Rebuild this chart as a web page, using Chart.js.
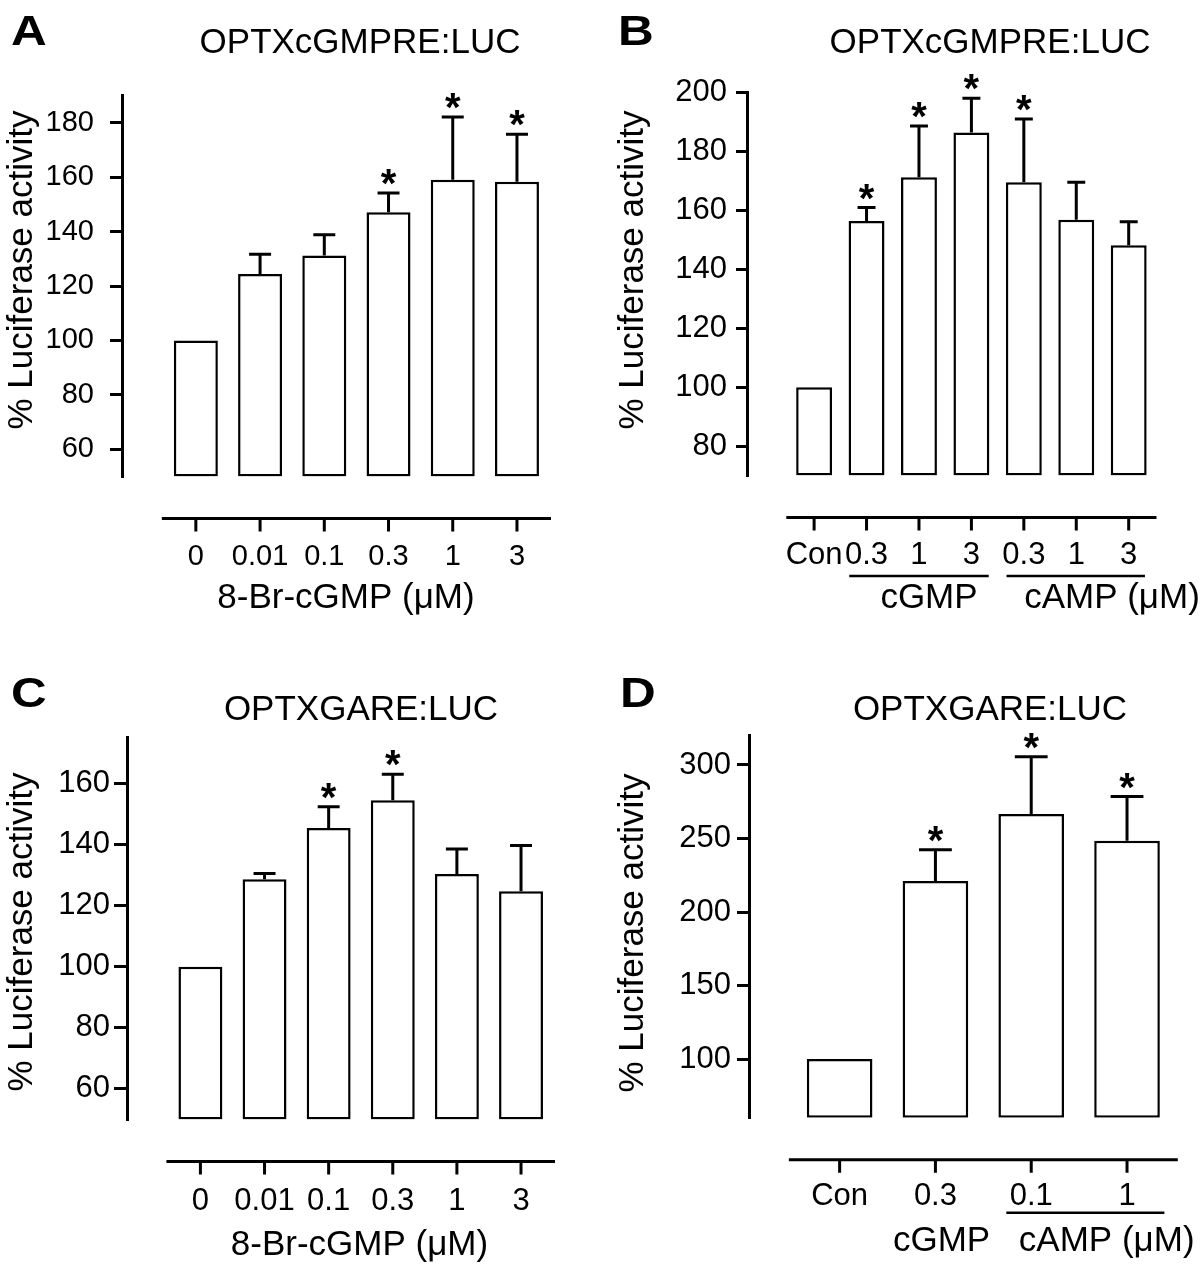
<!DOCTYPE html>
<html><head><meta charset="utf-8">
<script src="https://cdn.jsdelivr.net/npm/chart.js@4.4.1/dist/chart.umd.min.js"></script>
<style>
html,body{margin:0;padding:0;background:#fff;}
#wrap{position:relative;width:1200px;height:1267px;background:#fff;}
canvas{position:absolute;}
</style></head><body>
<div id="wrap">
<canvas id="cA" width="600" height="630" style="left:0;top:0;"></canvas>
<canvas id="cB" width="600" height="630" style="left:600px;top:0;"></canvas>
<canvas id="cC" width="600" height="637" style="left:0;top:630px;"></canvas>
<canvas id="cD" width="600" height="637" style="left:600px;top:630px;"></canvas>
</div>
<script>
// ---------------- DATA ----------------
const yLabel = '% Luciferase activity';

const titleA = 'OPTXcGMPRE:LUC';
const catsA = ['0','0.01','0.1','0.3','1','3'];
const meanA = [100,124.4,131.2,147.1,159.0,158.3];
const semA  = [0,7.3,7.6,7.1,23.1,17.5];
const sigA  = [0,0,0,1,1,1];
const yTicksA = [60,80,100,120,140,160,180];

const titleB = 'OPTXcGMPRE:LUC';
const catsB = ['Con','0.3','1','3','0.3','1','3'];
const meanB = [100,156.4,171.3,186.5,169.6,156.9,148.2];
const semB  = [0,4.6,17.4,11.6,21.5,12.7,8.0];
const sigB  = [0,1,1,1,1,0,0];
const yTicksB = [80,100,120,140,160,180,200];

const titleC = 'OPTXGARE:LUC';
const catsC = ['0','0.01','0.1','0.3','1','3'];
const meanC = [100,128.6,145.4,154.5,130.3,124.7];
const semC  = [0,1.9,6.9,8.5,8.2,15.0];
const sigC  = [0,0,1,1,0,0];
const yTicksC = [60,80,100,120,140,160];

const titleD = 'OPTXGARE:LUC';
const catsD = ['Con','0.3','0.1','1'];
const meanD = [100,221.1,266.7,248.5];
const semD  = [0,21.3,38.9,30.0];
const sigD  = [0,1,1,1];
const yTicksD = [100,150,200,250,300];

// ---------------- DRAWING ----------------
const FONT = '"Liberation Sans", Arial, Helvetica, sans-serif';

function makePanel(id, D, L) {
  const extras = {
    id: 'extras_' + id,
    afterDraw(chart) {
      const ctx = chart.ctx, xs = chart.scales.x, ys = chart.scales.y, ca = chart.chartArea;
      const meta = chart.getDatasetMeta(0);
      const n = D.cats.length;
      ctx.save();
      ctx.strokeStyle = '#000'; ctx.fillStyle = '#000'; ctx.lineWidth = 3; ctx.lineCap = 'butt';
      // detached category axis
      const axY = ca.bottom + L.xAxisGap;
      ctx.beginPath();
      ctx.moveTo(xs.getPixelForValue(-0.53), axY);
      ctx.lineTo(xs.getPixelForValue(n - 1 + 0.53), axY);
      for (let i = 0; i < n; i++) {
        const px = xs.getPixelForValue(i);
        ctx.moveTo(px, axY); ctx.lineTo(px, axY + 13);
      }
      ctx.stroke();
      // error bars + significance
      meta.data.forEach((bar, i) => {
        const s = D.sem[i];
        if (!s) return;
        const top = ys.getPixelForValue(D.mean[i] + s);
        const hw = bar.width / 4;
        ctx.beginPath();
        ctx.moveTo(bar.x, bar.y); ctx.lineTo(bar.x, top);
        ctx.moveTo(bar.x - hw, top); ctx.lineTo(bar.x + hw, top);
        ctx.stroke();
        if (D.sig[i]) {
          ctx.font = 'bold 40px ' + FONT; ctx.textAlign = 'center'; ctx.textBaseline = 'alphabetic';
          ctx.fillText('*', bar.x, top + 4);
        }
      });
      // group underlines
      ctx.lineWidth = 2.5;
      L.groups.forEach(g => {
        ctx.beginPath();
        ctx.moveTo(xs.getPixelForValue(g.from), g.y);
        ctx.lineTo(xs.getPixelForValue(g.to), g.y);
        ctx.stroke();
      });
      // texts
      ctx.textBaseline = 'alphabetic';
      ctx.save();
      ctx.translate(L.letter.x, L.letter.y); ctx.scale(1.15, 1);
      ctx.font = 'bold 43px ' + FONT; ctx.textAlign = 'left';
      ctx.fillText(L.letter.t, 0, 0);
      ctx.restore();
      ctx.font = '35px ' + FONT; ctx.textAlign = 'center';
      ctx.fillText(D.title, L.title.x, L.title.y);
      ctx.save();
      ctx.translate(L.yTitle.x, L.yTitle.y); ctx.rotate(-Math.PI / 2);
      ctx.fillText(yLabel, 0, 0);
      ctx.restore();
      L.texts.forEach(t => ctx.fillText(t.t, t.x, t.y));
      ctx.restore();
    }
  };
  new Chart(document.getElementById(id), {
    type: 'bar',
    data: {
      datasets: [{
        data: D.mean.map((v, i) => ({x: i, y: v})),
        base: L.yMin,
        backgroundColor: '#fff', borderColor: '#000', borderWidth: 2.5,
        borderSkipped: false, barPercentage: 0.685, categoryPercentage: 1
      }]
    },
    plugins: [extras],
    options: {
      responsive: false, animation: false, devicePixelRatio: 1,
      layout: { padding: { top: L.padTop, right: L.padRight, left: 0, bottom: 0 } },
      plugins: { legend: {display: false}, title: {display: false}, tooltip: {enabled: false} },
      scales: {
        x: {
          type: 'linear', min: L.xMin, max: L.xMax, offset: false,
          grid: {display: false, drawTicks: false, offset: false}, border: {display: false},
          afterBuildTicks: s => { s.ticks = D.cats.map((c, i) => ({value: i})); },
          afterFit: s => { s.height = L.xHeight; },
          ticks: {
            autoSkip: false, maxRotation: 0, minRotation: 0, padding: L.xLabelPad, color: '#000',
            font: {family: FONT, size: L.tickFont, lineHeight: 1.2},
            callback: v => D.cats[v]
          }
        },
        y: {
          min: L.yMin, max: L.yMax,
          afterBuildTicks: s => { s.ticks = D.yTicks.map(v => ({value: v})); },
          afterFit: s => { s.width = L.yWidth; },
          grid: {display: true, drawOnChartArea: false, drawTicks: true, tickLength: L.tickLen, color: '#000', lineWidth: 3},
          border: {display: true, color: '#000', width: 3},
          ticks: {
            padding: L.tickPad, color: '#000',
            font: {family: FONT, size: L.tickFont, lineHeight: 1.2},
            callback: v => String(v)
          }
        }
      }
    }
  });
}

makePanel('cA',
  {title: titleA, cats: catsA, mean: meanA, sem: semA, sig: sigA, yTicks: yTicksA},
  {yMin: 50, yMax: 190, xMin: -1.15, xMax: 5.53, padTop: 95.5, padRight: 49, yWidth: 122, xHeight: 153.5,
   tickFont: 29, tickLen: 12, tickPad: 16, xLabelPad: 63, xAxisGap: 42,
   letter: {t: 'A', x: 11, y: 45}, title: {x: 360, y: 53}, yTitle: {x: 31.5, y: 270},
   texts: [{t: '8-Br-cGMP (μM)', x: 346, y: 608}], groups: []});

makePanel('cB',
  {title: titleB, cats: catsB, mean: meanB, sem: semB, sig: sigB, yTicks: yTicksB},
  {yMin: 70, yMax: 200, xMin: -1.28, xMax: 6.55, padTop: 92.7, padRight: 26.8, yWidth: 147, xHeight: 154.4,
   tickFont: 31, tickLen: 11, tickPad: 9, xLabelPad: 60.8, xAxisGap: 42,
   letter: {t: 'B', x: 18, y: 45}, title: {x: 390, y: 53}, yTitle: {x: 42.5, y: 270},
   texts: [{t: 'cGMP', x: 329, y: 608}, {t: 'cAMP (μM)', x: 512, y: 608}],
   groups: [{from: 0.67, to: 3.33, y: 576}, {from: 3.67, to: 6.31, y: 576}]});

makePanel('cC',
  {title: titleC, cats: catsC, mean: meanC, sem: semC, sig: sigC, yTicks: yTicksC},
  {yMin: 50, yMax: 175, xMin: -1.145, xMax: 5.53, padTop: 107.5, padRight: 45, yWidth: 127, xHeight: 147.5,
   tickFont: 31, tickLen: 13, tickPad: 4, xLabelPad: 62.9, xAxisGap: 42,
   letter: {t: 'C', x: 11, y: 77}, title: {x: 361, y: 90}, yTitle: {x: 32, y: 302},
   texts: [{t: '8-Br-cGMP (μM)', x: 359.5, y: 625}], groups: []});

makePanel('cD',
  {title: titleD, cats: catsD, mean: meanD, sem: semD, sig: sigD, yTicks: yTicksD},
  {yMin: 60, yMax: 320, xMin: -0.946, xMax: 3.53, padTop: 105.6, padRight: 22.2, yWidth: 149, xHeight: 149.2,
   tickFont: 31, tickLen: 12, tickPad: 6, xLabelPad: 59.6, xAxisGap: 42,
   letter: {t: 'D', x: 20, y: 77}, title: {x: 390, y: 90}, yTitle: {x: 42.5, y: 303},
   texts: [{t: 'cGMP', x: 341.6, y: 621}, {t: 'cAMP (μM)', x: 506.7, y: 621}],
   groups: [{from: 1.74, to: 3.39, y: 582.7}]});
</script>
</body></html>
